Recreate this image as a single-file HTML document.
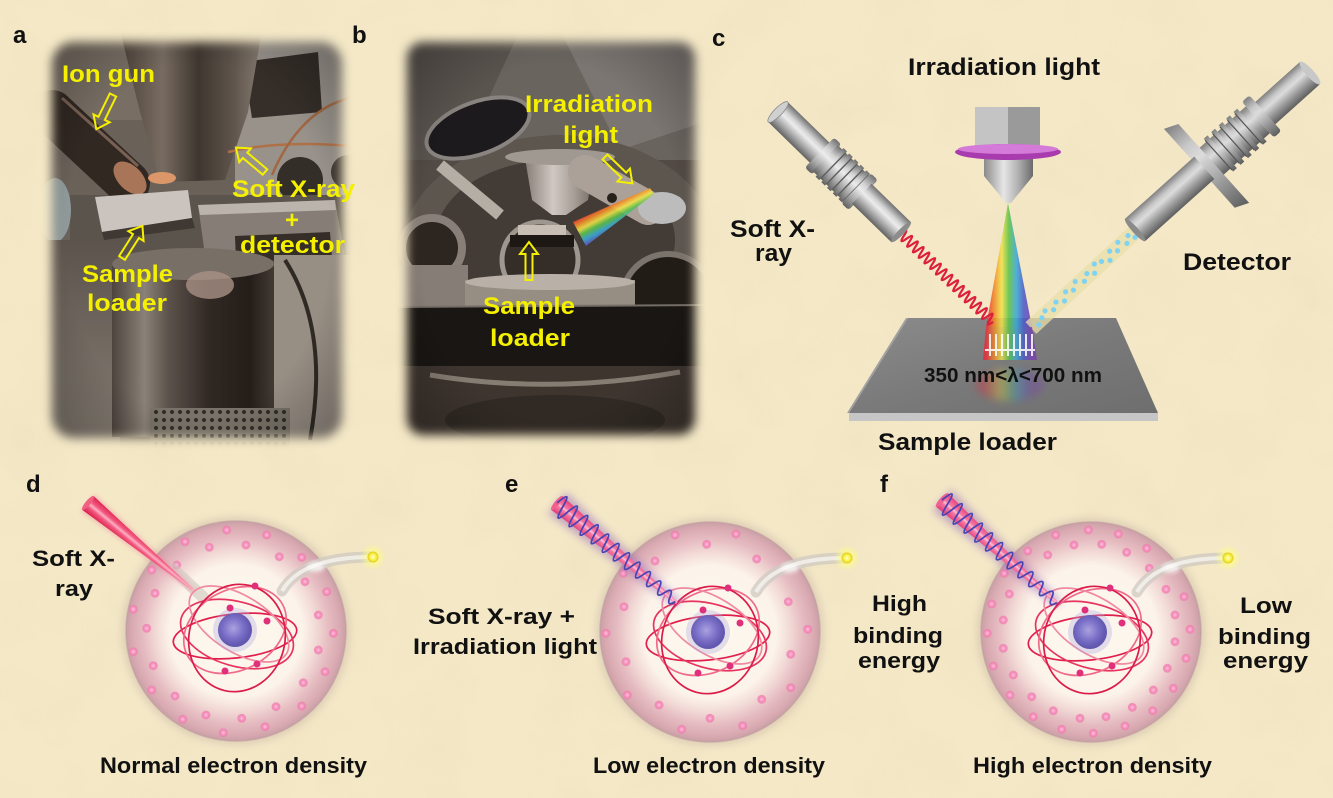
<!DOCTYPE html>
<html><head><meta charset="utf-8"><style>
html,body{margin:0;padding:0;background:#f4e8c7;overflow:hidden}
svg{display:block}
text{font-family:"Liberation Sans",Arial,sans-serif;font-weight:700}
</style></head><body>
<svg width="1333" height="798" viewBox="0 0 1333 798" xmlns="http://www.w3.org/2000/svg">
<defs>
<filter id="noise" x="0" y="0" width="100%" height="100%"><feTurbulence type="fractalNoise" baseFrequency="0.015" numOctaves="3" seed="3"/><feColorMatrix values="0 0 0 0 0.8  0 0 0 0 0.68  0 0 0 0 0.45  0.9 0 0 0 -0.38"/></filter>
<filter id="fe" x="-10%" y="-10%" width="120%" height="120%"><feGaussianBlur stdDeviation="5"/></filter>
<filter id="b2" x="-50%" y="-50%" width="200%" height="200%"><feGaussianBlur stdDeviation="2"/></filter>
<filter id="b4" x="-50%" y="-50%" width="200%" height="200%"><feGaussianBlur stdDeviation="4"/></filter>
<mask id="ma" maskUnits="userSpaceOnUse" x="0" y="0" width="1333" height="798"><rect x="52" y="42" width="290" height="396" rx="22" fill="#fff" filter="url(#fe)"/></mask>
<mask id="mb" maskUnits="userSpaceOnUse" x="0" y="0" width="1333" height="798"><rect x="407" y="42" width="288" height="393" rx="16" fill="#fff" filter="url(#fe)"/></mask>
<linearGradient id="coneA" x1="0" y1="0" x2="1" y2="0"><stop offset="0" stop-color="#4a423c"/><stop offset=".3" stop-color="#7a7068"/><stop offset=".55" stop-color="#3a3430"/><stop offset=".8" stop-color="#5e5650"/><stop offset="1" stop-color="#8a827a"/></linearGradient>
<linearGradient id="cylA" x1="0" y1="0" x2="1" y2="0"><stop offset="0" stop-color="#4a4440"/><stop offset=".2" stop-color="#8e8880"/><stop offset=".35" stop-color="#5a534e"/><stop offset=".6" stop-color="#2a2522"/><stop offset=".85" stop-color="#1c1816"/><stop offset="1" stop-color="#3e3834"/></linearGradient>
<linearGradient id="llA" x1="0" y1="0" x2="0" y2="1"><stop offset="0" stop-color="#5a5450"/><stop offset="1" stop-color="#8c867e"/></linearGradient>
<linearGradient id="coneB" x1="0" y1="0" x2="1" y2="0"><stop offset="0" stop-color="#8a8680"/><stop offset=".4" stop-color="#dedad6"/><stop offset=".7" stop-color="#b0aca6"/><stop offset="1" stop-color="#6e6a66"/></linearGradient>
<pattern id="perf" width="8" height="8" patternUnits="userSpaceOnUse"><rect width="8" height="8" fill="#7a766f"/><circle cx="4" cy="4" r="2" fill="#2a2724"/></pattern>
<radialGradient id="vig" cx=".5" cy=".5" r=".7"><stop offset=".6" stop-color="#000" stop-opacity="0"/><stop offset="1" stop-color="#000" stop-opacity=".35"/></radialGradient>
<linearGradient id="rbB" gradientUnits="userSpaceOnUse" x1="573" y1="220" x2="587" y2="247"><stop offset="0" stop-color="#e8283c"/><stop offset=".2" stop-color="#f08a2a"/><stop offset=".38" stop-color="#f2e24a"/><stop offset=".55" stop-color="#5cc24a"/><stop offset=".75" stop-color="#3aa8d8"/><stop offset="1" stop-color="#6a3eb0"/></linearGradient>
<linearGradient id="cyl" x1="0" y1="0" x2="0" y2="1"><stop offset="0" stop-color="#707070"/><stop offset=".3" stop-color="#d4d4d4"/><stop offset=".45" stop-color="#ececec"/><stop offset=".75" stop-color="#a4a4a4"/><stop offset="1" stop-color="#626262"/></linearGradient>
<linearGradient id="cylR" x1="0" y1="0" x2="0" y2="1"><stop offset="0" stop-color="#5e5e5e"/><stop offset=".3" stop-color="#9a9a9a"/><stop offset=".6" stop-color="#dcdcdc"/><stop offset=".75" stop-color="#c8c8c8"/><stop offset="1" stop-color="#808080"/></linearGradient>
<linearGradient id="coneG" x1="0" y1="0" x2="1" y2="0"><stop offset="0" stop-color="#8a8a8a"/><stop offset=".4" stop-color="#e6e6e6"/><stop offset=".7" stop-color="#b0b0b0"/><stop offset="1" stop-color="#6a6a6a"/></linearGradient>
<linearGradient id="rb" gradientUnits="userSpaceOnUse" x1="986" y1="0" x2="1032" y2="0"><stop offset="0" stop-color="#e8283c"/><stop offset=".18" stop-color="#f08a2a"/><stop offset=".34" stop-color="#f2e24a"/><stop offset=".5" stop-color="#5cc24a"/><stop offset=".66" stop-color="#3aa8d8"/><stop offset=".82" stop-color="#4a5cc8"/><stop offset="1" stop-color="#7a3eb0"/></linearGradient>
<linearGradient id="plate" x1="0" y1="0" x2="1" y2="1"><stop offset="0" stop-color="#8c8c8c"/><stop offset=".5" stop-color="#7a7a7a"/><stop offset="1" stop-color="#6e6e6e"/></linearGradient>
<radialGradient id="atomG"><stop offset="0" stop-color="#fdf8ee"/><stop offset=".6" stop-color="#fcf4ea"/><stop offset=".72" stop-color="#f3dcd8"/><stop offset=".84" stop-color="#e6bdc2"/><stop offset=".95" stop-color="#d9a9b1"/><stop offset="1" stop-color="#c9a0a6"/></radialGradient>
<radialGradient id="dotG"><stop offset="0" stop-color="#ffc0dc"/><stop offset=".6" stop-color="#f48ab8"/><stop offset="1" stop-color="#ec78a8" stop-opacity=".6"/></radialGradient>
<radialGradient id="nucG" cx=".45" cy=".45"><stop offset="0" stop-color="#aaa2e0"/><stop offset=".6" stop-color="#7b70c8"/><stop offset="1" stop-color="#6258b0"/></radialGradient>
<radialGradient id="yelG"><stop offset="0" stop-color="#ffffd0"/><stop offset=".6" stop-color="#f8f040"/><stop offset="1" stop-color="#e0c820"/></radialGradient>
<linearGradient id="beamG" x1="0" y1="0" x2="0" y2="1"><stop offset="0" stop-color="#e0204e"/><stop offset=".35" stop-color="#f25a80"/><stop offset=".5" stop-color="#ffb0c4"/><stop offset=".65" stop-color="#f25a80"/><stop offset="1" stop-color="#d81c48"/></linearGradient>
<linearGradient id="beamP" x1="0" y1="0" x2="0" y2="1"><stop offset="0" stop-color="#e8407a"/><stop offset=".4" stop-color="#f77aa4"/><stop offset=".5" stop-color="#ffc0d4"/><stop offset=".6" stop-color="#f77aa4"/><stop offset="1" stop-color="#e03a72"/></linearGradient>
<g id="atom">
<circle r="114" fill="#b8a098" opacity=".35" filter="url(#b4)"/>
<circle r="110" fill="url(#atomG)"/>
<circle r="110" fill="none" stroke="#c09ca0" stroke-width="1.5" opacity=".6"/>
</g>
<g id="orb">
<g fill="none" stroke-width="1.7">
<ellipse rx="62" ry="22" transform="translate(0,6) rotate(-6)" stroke="#e01f4c"/>
<ellipse rx="58" ry="32" transform="translate(2,4) rotate(16)" stroke="#e6345e"/>
<ellipse rx="54" ry="40" transform="translate(0,0) rotate(-28)" stroke="#f06a8a"/>
<ellipse rx="56" ry="28" transform="translate(4,-6) rotate(32)" stroke="#f08aa2"/>
<ellipse rx="48" ry="54" transform="translate(2,8) rotate(14)" stroke="#dc1c48"/>
</g>
<circle r="22" fill="#b0a8e0" opacity=".35"/>
<circle r="17" fill="url(#nucG)"/>
<g fill="#e0307c"><circle cx="20" cy="-44" r="3.5"/><circle cx="-5" cy="-22" r="3.5"/><circle cx="32" cy="-9" r="3.5"/><circle cx="22" cy="34" r="3.5"/><circle cx="-10" cy="41" r="3.5"/></g>
</g>
<g id="emit">
<path d="M46 -40 Q66 -74 136 -74" stroke="#cfcac2" stroke-width="11" opacity=".75" fill="none" stroke-linecap="round"/>
<path d="M46 -40 Q66 -74 136 -74" stroke="#f6f4f0" stroke-width="4" opacity=".8" fill="none"/>
<ellipse cx="80" cy="-64" rx="9" ry="5" fill="#fff" opacity=".7" filter="url(#b2)"/>
<circle cx="137" cy="-74" r="10" fill="#ffff80" opacity=".6" filter="url(#b2)"/>
<circle cx="137" cy="-74" r="5.5" fill="url(#yelG)"/>
</g>
<path id="helix" d="M0 0q3.5 -22 7 0q3.5 21.5 7 0q3.5 -20.9 7 0q3.5 20.4 7 0q3.5 -19.8 7 0q3.5 19.3 7 0q3.5 -18.7 7 0q3.5 18.2 7 0q3.5 -17.6 7 0q3.5 17.1 7 0q3.5 -16.5 7 0q3.5 16 7 0q3.5 -15.5 7 0q3.5 14.9 7 0q3.5 -14.4 7 0q3.5 13.8 7 0q3.5 -13.3 7 0q3.5 12.7 7 0q3.5 -12.2 7 0q3.5 11.6 7 0q3.5 -11.1 7 0q3.5 10.5 7 0" fill="none" stroke="#4a44b4" stroke-width="1.8"/>
<polygon id="arr" points="0,-3.5 26,-3.5 26,-9 38,0 26,9 26,3.5 0,3.5" fill="none" stroke="#f4f000" stroke-width="2" stroke-linejoin="miter"/>
</defs>

<rect width="1333" height="798" fill="#f4e8c7"/>
<rect width="1333" height="798" filter="url(#noise)" opacity=".5"/>

<!-- Photo a -->
<g mask="url(#ma)">
<rect x="40" y="30" width="315" height="420" fill="#6a645e"/>
<rect x="40" y="30" width="110" height="90" fill="#7a726a"/>
<rect x="235" y="30" width="120" height="190" fill="#9e9a96"/>
<polygon points="243,62 318,52 322,112 252,118" fill="#2f2b29"/>
<polygon points="120,30 262,30 248,112 225,180 160,182 140,112" fill="url(#coneA)"/>
<path d="M228 152 Q280 140 350 146" stroke="#b8744a" stroke-width="2.5" fill="none"/>
<path d="M272 175 Q300 110 350 98" stroke="#a86a44" stroke-width="2.5" fill="none"/>
<circle cx="300" cy="180" r="23" fill="#2e2b29"/>
<circle cx="348" cy="172" r="17" fill="#3a3634"/>
<rect x="70" y="195" width="285" height="70" fill="#5a5550"/>
<line x1="52" y1="112" x2="128" y2="183" stroke="#2b2421" stroke-width="44" stroke-linecap="round"/>
<line x1="62" y1="98" x2="138" y2="166" stroke="#7a6458" stroke-width="3"/>
<ellipse cx="130" cy="178" rx="12" ry="20" transform="rotate(-45 130 178)" fill="#b07a5e"/>
<ellipse cx="55" cy="210" rx="16" ry="32" fill="#93a2a6"/>
<ellipse cx="162" cy="178" rx="14" ry="6" fill="#e8a070"/>
<polygon points="95,197 188,190 192,218 102,232" fill="#d6d2ce"/>
<polygon points="102,232 192,218 195,228 104,240" fill="#3a3634"/>
<polygon points="198,205 335,200 345,258 205,255" fill="#8a847e"/>
<polygon points="198,205 335,200 336,210 200,215" fill="#c4c0bb"/>
<polygon points="235,236 330,232 332,258 236,262" fill="#2e2a28"/>
<rect x="40" y="240" width="80" height="210" fill="url(#llA)"/>
<rect x="112" y="262" width="162" height="175" fill="url(#cylA)"/>
<ellipse cx="193" cy="264" rx="81" ry="16" fill="#7a746e"/>
<ellipse cx="210" cy="285" rx="24" ry="14" fill="#b09890" opacity=".8"/>
<rect x="274" y="255" width="80" height="195" fill="#9c968e"/>
<path d="M285 260 Q330 330 310 440" stroke="#2a2624" stroke-width="4" fill="none"/>
<rect x="150" y="408" width="140" height="40" fill="url(#perf)"/>
<rect x="40" y="30" width="315" height="420" fill="#6a4a30" opacity=".1"/>
<rect x="40" y="30" width="315" height="420" fill="url(#vig)"/>
</g>

<!-- Photo b -->
<g mask="url(#mb)">
<rect x="395" y="30" width="315" height="420" fill="#4f4b47"/>
<rect x="395" y="30" width="315" height="130" fill="#6a6866"/>
<path d="M395 30 L520 30 L460 160 L395 160Z" fill="#585654"/>
<polygon points="560,30 710,30 710,120 620,150" fill="#7f7d7b"/>
<ellipse cx="560" cy="255" rx="160" ry="120" fill="#5c5854"/>
<ellipse cx="478" cy="128" rx="54" ry="26" transform="rotate(-20 478 128)" fill="#12141a" stroke="#8e8c8a" stroke-width="4"/>
<ellipse cx="555" cy="240" rx="120" ry="80" fill="#3e3a36"/>
<line x1="440" y1="165" x2="500" y2="215" stroke="#c0bcb6" stroke-width="12"/>
<polygon points="525,158 595,158 588,200 566,215 552,215 532,200" fill="url(#coneB)"/>
<ellipse cx="560" cy="157" rx="55" ry="8" fill="#a8a49f"/>
<line x1="585" y1="172" x2="648" y2="208" stroke="#b4aea8" stroke-width="34" stroke-linecap="round"/>
<circle cx="612" cy="198" r="5" fill="#1e1c1a"/>
<ellipse cx="662" cy="208" rx="24" ry="16" fill="#c8ccd0"/>
<circle cx="432" cy="248" r="30" fill="#24201e" stroke="#8c8782" stroke-width="8"/>
<circle cx="540" cy="260" r="38" fill="#2e2a27" stroke="#a6a29c" stroke-width="5"/>
<rect x="518" y="225" width="48" height="10" fill="#d6cfc6"/>
<rect x="510" y="235" width="64" height="12" fill="#141210"/>
<circle cx="668" cy="300" r="46" fill="#181614" stroke="#7e7a76" stroke-width="6"/>
<rect x="395" y="265" width="73" height="55" fill="#8a8580"/>
<rect x="465" y="280" width="170" height="28" fill="#9c978f"/>
<ellipse cx="550" cy="282" rx="85" ry="8" fill="#c4bfb8"/>
<rect x="395" y="306" width="315" height="60" fill="#0f0f0f"/>
<line x1="395" y1="307" x2="710" y2="305" stroke="#77736f" stroke-width="2"/>
<rect x="395" y="366" width="315" height="80" fill="#38332f"/>
<path d="M430 375 Q550 395 680 372" stroke="#8a847c" stroke-width="5" fill="none"/>
<ellipse cx="555" cy="420" rx="110" ry="25" fill="#2a2623"/>
<rect x="395" y="30" width="315" height="420" fill="#6a4a30" opacity=".12"/>
<rect x="395" y="30" width="315" height="420" fill="url(#vig)"/>
<polygon points="573,222 586,246 654,194 650,188" fill="url(#rbB)" opacity=".9"/>
</g>

<!-- yellow arrows -->
<use href="#arr" transform="translate(113,95) rotate(116)"/>
<use href="#arr" transform="translate(265,172) rotate(-140)"/>
<use href="#arr" transform="translate(122,258) rotate(-57.5)"/>
<use href="#arr" transform="translate(605,157) rotate(44)"/>
<use href="#arr" transform="translate(529,280) rotate(-90)"/>

<!-- yellow labels -->
<g fill="#f4f000" font-size="24">
<text x="62" y="82" textLength="93" lengthAdjust="spacingAndGlyphs">Ion gun</text>
<text x="232" y="197" textLength="123" lengthAdjust="spacingAndGlyphs">Soft X-ray</text>
<text x="292" y="228" text-anchor="middle">+</text>
<text x="240" y="253" textLength="105" lengthAdjust="spacingAndGlyphs">detector</text>
<text x="82" y="282" textLength="91" lengthAdjust="spacingAndGlyphs">Sample</text>
<text x="87" y="311" textLength="80" lengthAdjust="spacingAndGlyphs">loader</text>
<text x="525" y="112" textLength="128" lengthAdjust="spacingAndGlyphs">Irradiation</text>
<text x="563" y="143" textLength="55" lengthAdjust="spacingAndGlyphs">light</text>
<text x="483" y="314" textLength="92" lengthAdjust="spacingAndGlyphs">Sample</text>
<text x="490" y="346" textLength="80" lengthAdjust="spacingAndGlyphs">loader</text>
</g>

<!-- Panel c -->
<polygon points="908,318 1116,318 1158,413 849,413" fill="url(#plate)"/>
<polygon points="849,413 1158,413 1158,421 849,421" fill="#c6c6c6"/>
<polygon points="849,413 908,318 906,318 847,413" fill="#a0a0a0"/>
<ellipse cx="1010" cy="385" rx="34" ry="16" fill="url(#rb)" opacity=".35" filter="url(#b4)"/>
<polygon points="1008,203 986,327 1032,327" fill="url(#rb)" opacity=".88"/>
<g transform="translate(1136,231) rotate(137.3)">
<rect x="0" y="-8" width="143" height="16" fill="#eadfa8" opacity=".75"/>
<g fill="#7fd2f0"><circle cx="5" cy="-4" r="2.6"/><circle cx="9" cy="2" r="2.6"/><circle cx="15" cy="-3" r="2.6"/><circle cx="21" cy="4" r="2.6"/><circle cx="27" cy="-2" r="2.6"/><circle cx="33" cy="3" r="2.6"/><circle cx="39" cy="-4" r="2.6"/><circle cx="46" cy="1" r="2.6"/><circle cx="53" cy="4" r="2.6"/><circle cx="59" cy="-3" r="2.6"/><circle cx="65" cy="2" r="2.6"/><circle cx="72" cy="-2" r="2.6"/><circle cx="79" cy="4" r="2.6"/><circle cx="86" cy="-1" r="2.6"/><circle cx="93" cy="3" r="2.6"/><circle cx="100" cy="-3" r="2.6"/><circle cx="107" cy="2" r="2.6"/><circle cx="114" cy="-2" r="2.6"/><circle cx="121" cy="3" r="2.6"/><circle cx="128" cy="0" r="2.6"/><circle cx="135" cy="-3" r="2.6"/></g>
</g>
<g transform="translate(901,233) rotate(44)">
<path d="M0 0q2 -11 4 0q2 11 4 0q2 -11 4 0q2 11 4 0q2 -11 4 0q2 11 4 0q2 -11 4 0q2 11 4 0q2 -11 4 0q2 11 4 0q2 -11 4 0q2 11 4 0q2 -11 4 0q2 11 4 0q2 -11 4 0q2 11 4 0q2 -11 4 0q2 11 4 0q2 -11 4 0q2 11 4 0q2 -11 4 0q2 11 4 0q2 -11 4 0q2 11 4 0q2 -11 4 0q2 11 4 0q2 -11 4 0q2 11 4 0q2 -11 4 0q2 11 4 0q2 -11 4 0q2 11 4 0" fill="none" stroke="#dc1f3c" stroke-width="2.2"/>
</g>
<polygon points="986,327 1032,327 1037,360 983,360" fill="url(#rb)" opacity=".8"/>
<g stroke="#fff" stroke-width="2" opacity=".85"><line x1="990" y1="334" x2="990" y2="356"/><line x1="996" y1="334" x2="996" y2="356"/><line x1="1002" y1="334" x2="1002" y2="356"/><line x1="1008" y1="334" x2="1008" y2="356"/><line x1="1014" y1="334" x2="1014" y2="356"/><line x1="1020" y1="334" x2="1020" y2="356"/><line x1="1026" y1="334" x2="1026" y2="356"/><line x1="1032" y1="334" x2="1032" y2="356"/><line x1="985" y1="350" x2="1035" y2="350"/></g>
<!-- X-ray gun -->
<g transform="translate(778,112) rotate(44.3)">
<rect x="0" y="-14" width="64" height="28" fill="url(#cyl)"/>
<ellipse cx="0" cy="0" rx="4" ry="14" fill="#d0d0d0" stroke="#8a8a8a" stroke-width=".8"/>
<rect x="58" y="-21" width="10" height="42" rx="3" fill="url(#cyl)"/>
<rect x="66" y="-18" width="44" height="36" fill="url(#cyl)"/>
<g fill="url(#cyl)"><rect x="72" y="-20" width="5" height="40"/><rect x="80" y="-20" width="5" height="40"/><rect x="88" y="-20" width="5" height="40"/><rect x="96" y="-20" width="5" height="40"/><rect x="104" y="-20" width="5" height="40"/></g>
<g stroke="#5e5e5e" stroke-width="1.4"><line x1="77" y1="-18" x2="77" y2="18"/><line x1="85" y1="-18" x2="85" y2="18"/><line x1="93" y1="-18" x2="93" y2="18"/><line x1="101" y1="-18" x2="101" y2="18"/><line x1="109" y1="-18" x2="109" y2="18"/></g>
<rect x="109" y="-21" width="10" height="42" rx="3" fill="url(#cyl)"/>
<rect x="117" y="-14" width="55" height="28" fill="url(#cyl)"/>
<ellipse cx="172" cy="0" rx="3" ry="14" fill="#8c8c8c"/>
</g>
<!-- Detector -->
<g transform="translate(1310,73) rotate(138.1)">
<rect x="0" y="-15" width="64" height="30" fill="url(#cylR)"/>
<ellipse cx="0" cy="0" rx="4" ry="15" fill="#c8c8c8"/>
<rect x="60" y="-24" width="10" height="48" rx="3" fill="url(#cylR)"/>
<rect x="70" y="-18" width="66" height="36" fill="url(#cylR)"/>
<g fill="url(#cylR)"><rect x="78" y="-22" width="5" height="44"/><rect x="88" y="-22" width="5" height="44"/><rect x="98" y="-22" width="5" height="44"/><rect x="108" y="-22" width="5" height="44"/><rect x="118" y="-22" width="5" height="44"/></g>
<g stroke="#555" stroke-width="1.2"><line x1="83" y1="-20" x2="83" y2="20"/><line x1="93" y1="-20" x2="93" y2="20"/><line x1="103" y1="-20" x2="103" y2="20"/><line x1="113" y1="-20" x2="113" y2="20"/><line x1="123" y1="-20" x2="123" y2="20"/></g>
<polygon points="132,-56 146,-50 146,56 132,50" fill="url(#cylR)"/>
<rect x="142" y="-15" width="93" height="30" fill="url(#cylR)"/>
<ellipse cx="235" cy="0" rx="3" ry="15" fill="#8a8a8a"/>
</g>
<!-- lamp -->
<rect x="975" y="107" width="33" height="41" fill="#c4c4c4"/>
<rect x="1008" y="107" width="32" height="41" fill="#9a9a9a"/>
<polygon points="984,158 1033,158 1033,176 1011,203 1006,203 984,176" fill="url(#coneG)"/>
<ellipse cx="1008" cy="152" rx="53" ry="8" fill="#a83cae"/>
<ellipse cx="1008" cy="149" rx="50" ry="5" fill="#d47ad8"/>

<!-- Panel c text -->
<g fill="#111" font-size="24">
<text x="908" y="75" textLength="192" lengthAdjust="spacingAndGlyphs">Irradiation light</text>
<text x="730" y="237" textLength="85" lengthAdjust="spacingAndGlyphs">Soft X-</text>
<text x="755" y="261" textLength="37" lengthAdjust="spacingAndGlyphs">ray</text>
<text x="1183" y="270" textLength="108" lengthAdjust="spacingAndGlyphs">Detector</text>
<text x="878" y="450" textLength="179" lengthAdjust="spacingAndGlyphs">Sample loader</text>
<text x="924" y="382" font-size="20" textLength="178" lengthAdjust="spacingAndGlyphs">350 nm&lt;λ&lt;700 nm</text>
</g>

<!-- Panel letters -->
<g fill="#111" font-size="24">
<text x="13" y="43">a</text>
<text x="352" y="43">b</text>
<text x="712" y="46">c</text>
<text x="26" y="492">d</text>
<text x="505" y="492">e</text>
<text x="880" y="492">f</text>
</g>

<!-- Panel d -->
<use href="#atom" x="236" y="631"/>
<g fill="url(#dotG)"><circle cx="226.7" cy="530" r="4.5"/><circle cx="266.7" cy="535" r="4.5"/><circle cx="185" cy="541.7" r="4.5"/><circle cx="209.3" cy="547.3" r="4.5"/><circle cx="246" cy="545" r="4.5"/><circle cx="279.3" cy="556.7" r="4.5"/><circle cx="301.7" cy="557.3" r="4.5"/><circle cx="176.7" cy="565" r="4.5"/><circle cx="151.7" cy="570" r="4.5"/><circle cx="305" cy="581.7" r="4.5"/><circle cx="326.7" cy="591.7" r="4.5"/><circle cx="155" cy="593.3" r="4.5"/><circle cx="133.3" cy="609.3" r="4.5"/><circle cx="318.3" cy="615" r="4.5"/><circle cx="146.7" cy="628.3" r="4.5"/><circle cx="333.3" cy="633.3" r="4.5"/><circle cx="133.3" cy="651.7" r="4.5"/><circle cx="318.3" cy="650" r="4.5"/><circle cx="153.3" cy="665.7" r="4.5"/><circle cx="325" cy="671.7" r="4.5"/><circle cx="151.7" cy="690" r="4.5"/><circle cx="303.3" cy="682.7" r="4.5"/><circle cx="175" cy="696" r="4.5"/><circle cx="276" cy="706.7" r="4.5"/><circle cx="301.7" cy="706" r="4.5"/><circle cx="182.7" cy="719.3" r="4.5"/><circle cx="206" cy="715" r="4.5"/><circle cx="241.7" cy="718.3" r="4.5"/><circle cx="265" cy="726.7" r="4.5"/><circle cx="223.3" cy="732.7" r="4.5"/></g>
<use href="#emit" x="236" y="631"/>
<line x1="173" y1="569" x2="203" y2="597" stroke="#cfc9c0" stroke-width="12" opacity=".6" stroke-linecap="round"/>
<use href="#orb" x="235" y="630"/>
<g transform="translate(88,503) rotate(39.6)">
<polygon points="0,-11 138,-2 138,2 0,11" fill="#f07090" opacity=".35" filter="url(#b2)"/>
<polygon points="0,-9 136,-1 136,1 0,9" fill="url(#beamG)"/>
<ellipse cx="0" cy="0" rx="2.5" ry="9" fill="#f06080"/>
</g>

<!-- Panel e -->
<use href="#atom" x="710" y="632"/>
<g fill="url(#dotG)"><circle cx="675" cy="535" r="4.5"/><circle cx="736" cy="534" r="4.5"/><circle cx="706.7" cy="544.3" r="4.5"/><circle cx="756.7" cy="559" r="4.5"/><circle cx="655" cy="561" r="4.5"/><circle cx="623.3" cy="573.3" r="4.5"/><circle cx="788.3" cy="601.7" r="4.5"/><circle cx="624" cy="606.7" r="4.5"/><circle cx="606" cy="633.3" r="4.5"/><circle cx="807.7" cy="629.3" r="4.5"/><circle cx="790.7" cy="654.3" r="4.5"/><circle cx="626" cy="661.7" r="4.5"/><circle cx="790.7" cy="687.7" r="4.5"/><circle cx="627.3" cy="695" r="4.5"/><circle cx="761.7" cy="699.3" r="4.5"/><circle cx="659" cy="705" r="4.5"/><circle cx="710" cy="718.3" r="4.5"/><circle cx="681.7" cy="729.3" r="4.5"/><circle cx="742.7" cy="725.7" r="4.5"/></g>
<use href="#emit" x="710" y="632"/>
<use href="#orb" x="708" y="632"/>
<g transform="translate(557,503) rotate(39.8)">
<polygon points="0,-14 158,-4 158,4 0,14" fill="#8a5ab8" opacity=".45" filter="url(#b4)"/>
<polygon points="0,-9 156,-1.5 156,1.5 0,9" fill="url(#beamP)"/>
<ellipse cx="0" cy="0" rx="2.5" ry="9" fill="#f2608e"/>
<use href="#helix"/>
</g>

<!-- Panel f -->
<use href="#atom" x="1091" y="632"/>
<g fill="url(#dotG)"><circle cx="1088.3" cy="530" r="4.5"/><circle cx="1055.7" cy="535" r="4.5"/><circle cx="1118.3" cy="534" r="4.5"/><circle cx="1074" cy="545" r="4.5"/><circle cx="1101.7" cy="544.3" r="4.5"/><circle cx="1027.7" cy="551" r="4.5"/><circle cx="1126.7" cy="552.3" r="4.5"/><circle cx="1146.7" cy="548.3" r="4.5"/><circle cx="1047.7" cy="555" r="4.5"/><circle cx="1149.3" cy="568.3" r="4.5"/><circle cx="1004.3" cy="573.3" r="4.5"/><circle cx="1009.3" cy="594" r="4.5"/><circle cx="1166" cy="589.3" r="4.5"/><circle cx="1184" cy="596.7" r="4.5"/><circle cx="1175" cy="615" r="4.5"/><circle cx="991.7" cy="604" r="4.5"/><circle cx="1003.3" cy="620" r="4.5"/><circle cx="1190" cy="629.3" r="4.5"/><circle cx="987.3" cy="633.3" r="4.5"/><circle cx="1175" cy="641.7" r="4.5"/><circle cx="1003.3" cy="648.3" r="4.5"/><circle cx="1186" cy="658.3" r="4.5"/><circle cx="993.3" cy="666" r="4.5"/><circle cx="1167.3" cy="668.3" r="4.5"/><circle cx="1013.3" cy="675" r="4.5"/><circle cx="1173.3" cy="688.3" r="4.5"/><circle cx="1153.3" cy="690" r="4.5"/><circle cx="1010" cy="695" r="4.5"/><circle cx="1031.7" cy="696.7" r="4.5"/><circle cx="1132.3" cy="707.3" r="4.5"/><circle cx="1152.7" cy="710.7" r="4.5"/><circle cx="1053.3" cy="710.7" r="4.5"/><circle cx="1080" cy="718.3" r="4.5"/><circle cx="1106" cy="716.7" r="4.5"/><circle cx="1033.3" cy="716.7" r="4.5"/><circle cx="1061.7" cy="729.3" r="4.5"/><circle cx="1093.3" cy="733.3" r="4.5"/><circle cx="1125" cy="726" r="4.5"/></g>
<use href="#emit" x="1091" y="632"/>
<use href="#orb" x="1090" y="632"/>
<g transform="translate(942,500) rotate(41.8)">
<polygon points="0,-14 156,-4 156,4 0,14" fill="#8a5ab8" opacity=".45" filter="url(#b4)"/>
<polygon points="0,-9 154,-1.5 154,1.5 0,9" fill="url(#beamP)"/>
<ellipse cx="0" cy="0" rx="2.5" ry="9" fill="#f2608e"/>
<use href="#helix"/>
</g>

<!-- bottom text -->
<g fill="#111" font-size="22">
<text x="32" y="566" textLength="83" lengthAdjust="spacingAndGlyphs">Soft X-</text>
<text x="55" y="596" textLength="38" lengthAdjust="spacingAndGlyphs">ray</text>
<text x="100" y="773" textLength="267" lengthAdjust="spacingAndGlyphs">Normal electron density</text>
<text x="428" y="624" textLength="147" lengthAdjust="spacingAndGlyphs">Soft X-ray +</text>
<text x="413" y="654" textLength="184" lengthAdjust="spacingAndGlyphs">Irradiation light</text>
<text x="872" y="611" textLength="55" lengthAdjust="spacingAndGlyphs">High</text>
<text x="853" y="643" textLength="90" lengthAdjust="spacingAndGlyphs">binding</text>
<text x="858" y="668" textLength="82" lengthAdjust="spacingAndGlyphs">energy</text>
<text x="593" y="773" textLength="232" lengthAdjust="spacingAndGlyphs">Low electron density</text>
<text x="1240" y="613" textLength="52" lengthAdjust="spacingAndGlyphs">Low</text>
<text x="1218" y="644" textLength="93" lengthAdjust="spacingAndGlyphs">binding</text>
<text x="1223" y="668" textLength="85" lengthAdjust="spacingAndGlyphs">energy</text>
<text x="973" y="773" textLength="239" lengthAdjust="spacingAndGlyphs">High electron density</text>
</g>
</svg>
</body></html>
